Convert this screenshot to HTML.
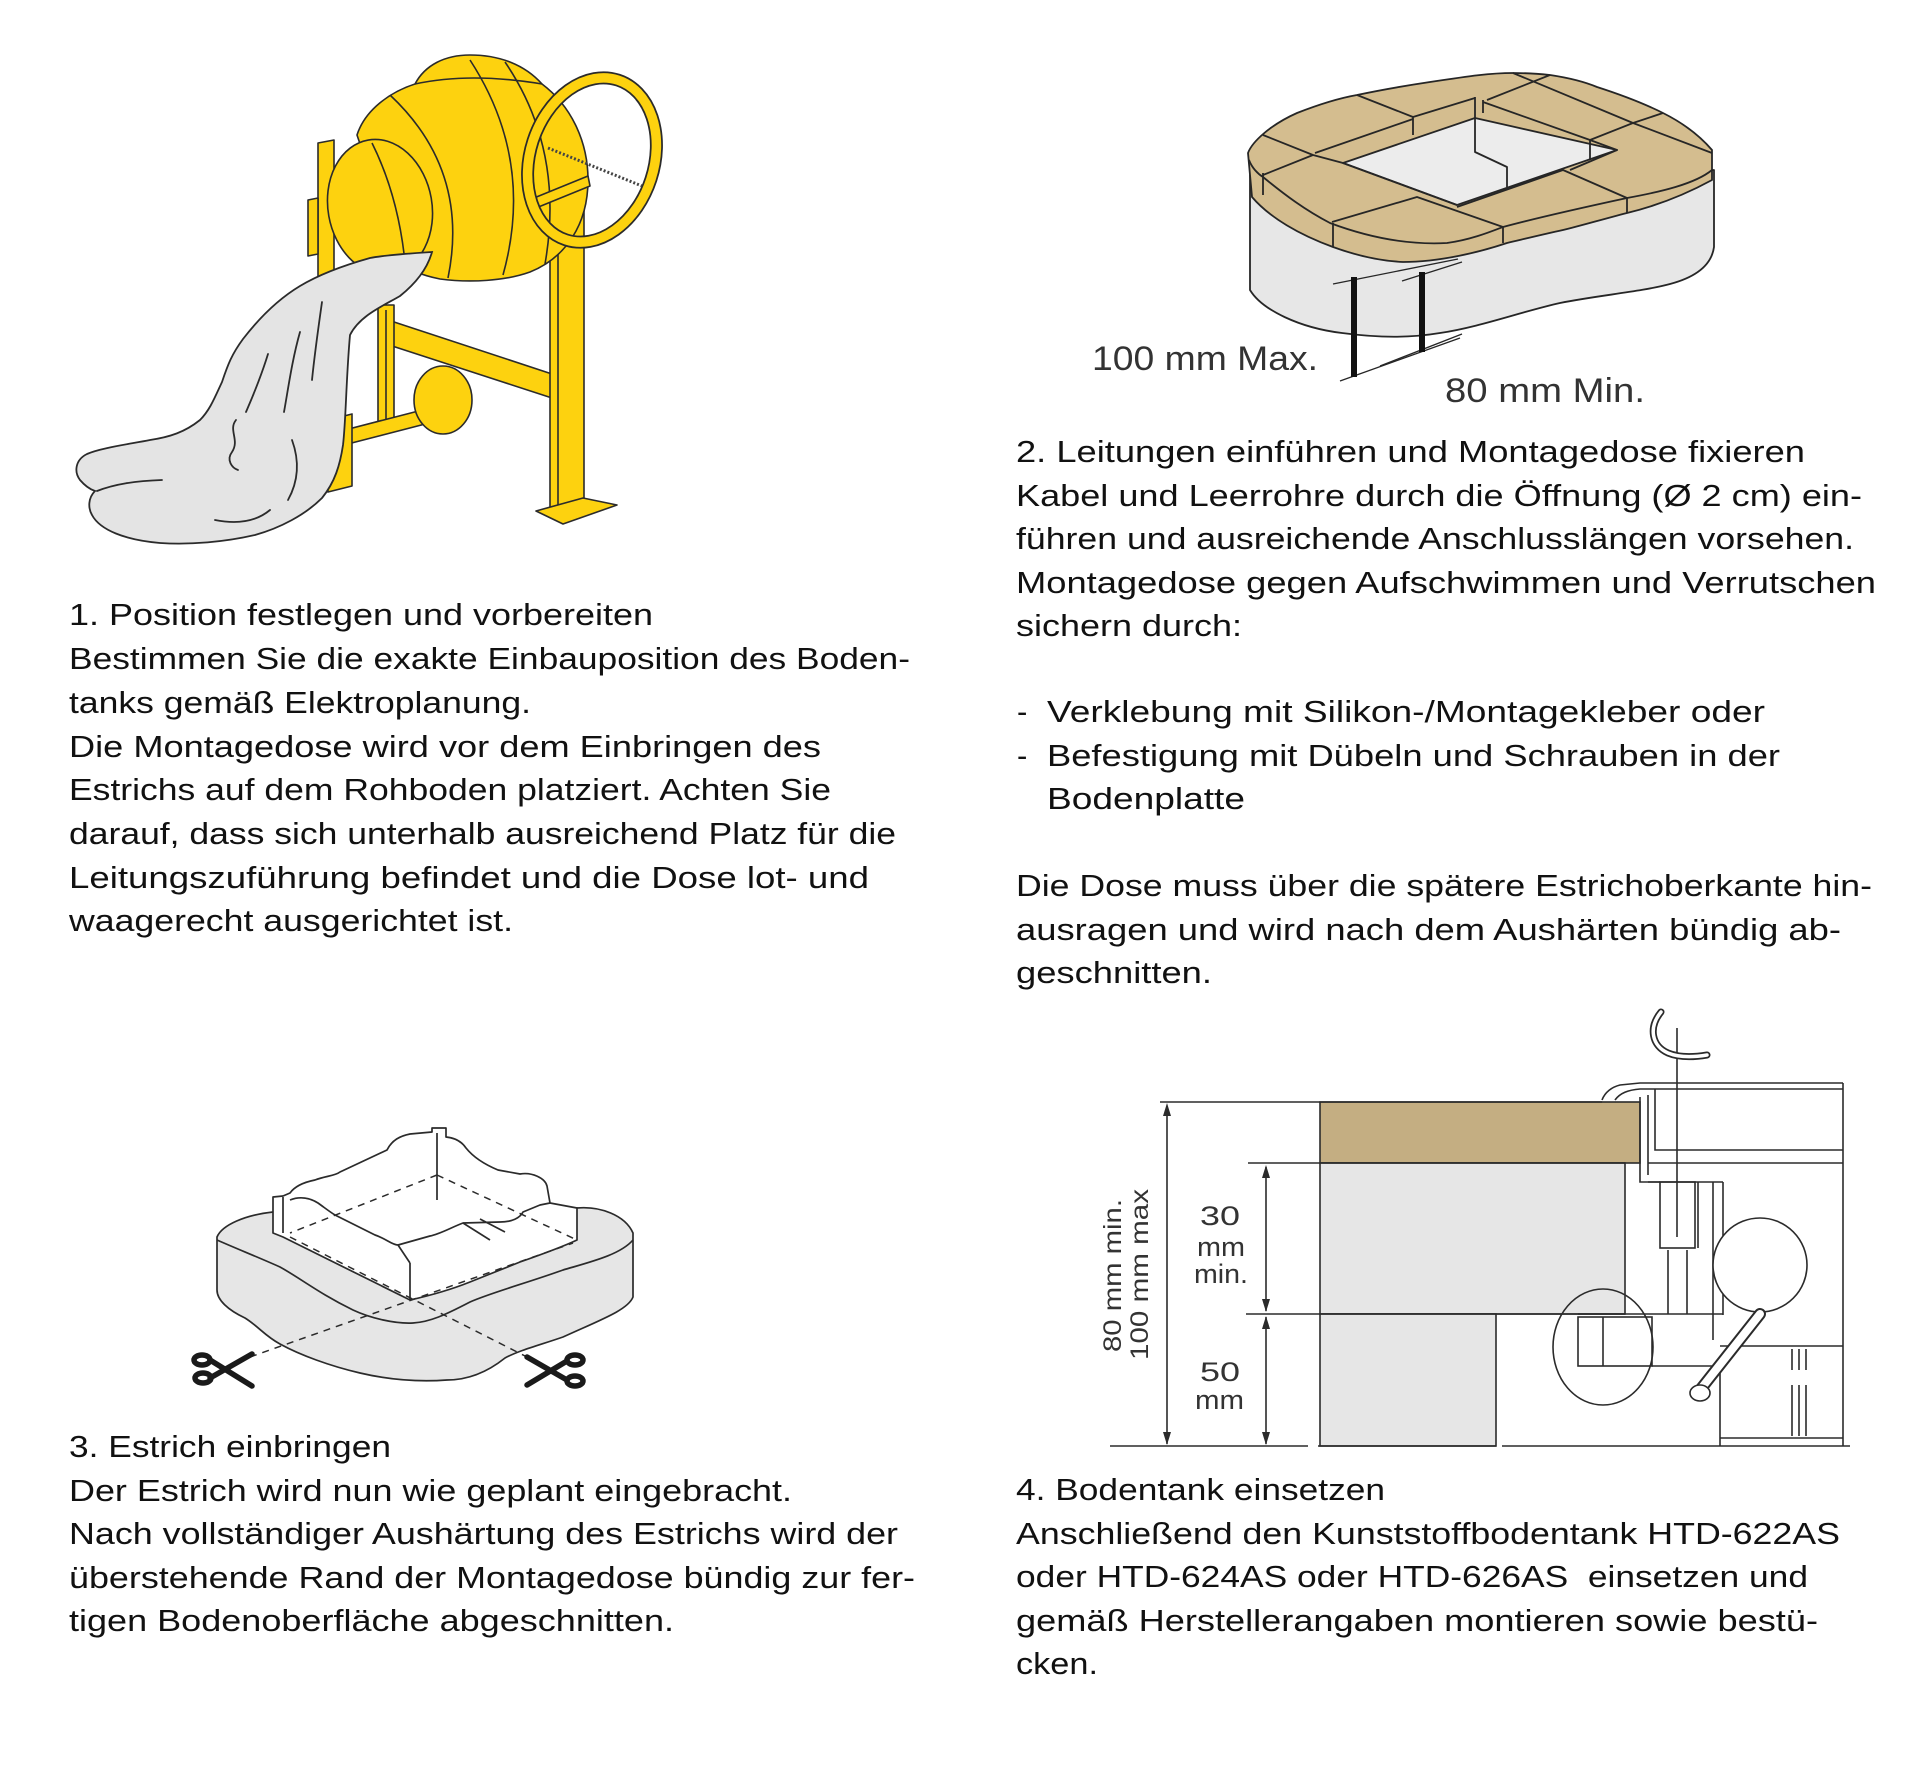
<!DOCTYPE html>
<html><head><meta charset="utf-8"><style>
html,body{margin:0;padding:0;background:#fff;}
svg{display:block;}
text{font-family:"Liberation Sans",sans-serif;}
</style></head><body>
<svg width="1920" height="1775" viewBox="0 0 1920 1775" xmlns="http://www.w3.org/2000/svg">
<rect width="1920" height="1775" fill="#fff"/>

<!-- ============ FIGURE 1: concrete mixer ============ -->
<g stroke="#2b2b2b" stroke-width="1.6" stroke-linejoin="round" fill="#fdd20f">
  <polygon points="318,143 334,140 334,410 318,412"/>
  <polygon points="308,200 318,198 318,254 308,256"/>
  <polygon points="388,320 552,374 552,398 386,344"/>
  <rect x="378" y="305" width="16" height="122"/>
  <line x1="386" y1="310" x2="386" y2="425" fill="none"/>
  <polygon points="337,432 430,408 433,422 340,446"/>
  <polygon points="328,420 352,414 352,486 328,492"/>
  <ellipse cx="443" cy="400" rx="29" ry="34"/>
  <polygon points="550,195 584,182 584,505 550,512"/>
  <line x1="558" y1="195" x2="558" y2="510" fill="none"/>
  <polygon points="536,511 583,498 617,505 563,524"/>
  <!-- drum -->
  <path d="M357,135 C365,110 390,92 415,84 C425,65 445,55 470,55 C500,55 525,65 542,84 C570,105 588,140 588,180 C588,225 565,258 530,272 C505,281 470,283 440,279 C420,275 405,268 400,262 Z"/>
  <path fill="none" d="M415,84 Q470,72 542,84"/>
  <path fill="none" d="M390,95 Q470,170 448,278"/>
  <path fill="none" d="M470,60 Q535,160 503,275"/>
  <path fill="none" d="M505,62 Q565,150 545,264"/>
  <ellipse cx="380" cy="207" rx="52" ry="68" transform="rotate(-10 380 207)"/>
  <path fill="none" d="M372,143 Q398,195 405,262"/>
  <polygon points="534,198 588,176 590,186 536,208"/>
  <!-- ring -->
  <ellipse cx="592" cy="160" rx="62" ry="84" transform="rotate(18 592 160)" fill="none" stroke="#2b2b2b" stroke-width="13"/>
  <ellipse cx="592" cy="160" rx="62" ry="84" transform="rotate(18 592 160)" fill="none" stroke="#fdd20f" stroke-width="9.5"/>
  <line x1="548" y1="148" x2="642" y2="186" stroke="#444" stroke-width="3" stroke-dasharray="2,2" fill="none"/>
</g>
<!-- cloth / screed -->
<g stroke="#2b2b2b" stroke-width="1.8" fill="#e4e4e4" stroke-linecap="round">
  <path d="M432,252 C400,254 380,256 370,258 C345,265 320,274 300,286 C280,298 260,317 243,339 C232,354 228,364 222,382 C215,397 210,410 200,420 C185,432 170,437 150,440 C130,444 100,448 87,454 C75,460 74,472 80,480 C86,487 92,490 95,491 C88,498 88,508 92,515 C100,530 125,540 160,543 C190,545 225,542 255,535 C280,528 305,515 322,498 C335,482 340,465 343,445 C346,420 346,380 350,335 C360,315 385,305 400,296 C415,284 427,270 432,252 Z"/>
  <g fill="none">
    <path d="M300,332 C292,360 288,390 284,412"/>
    <path d="M268,354 C260,380 252,398 246,412"/>
    <path d="M236,420 C228,430 240,440 232,452 C226,460 232,468 238,470"/>
    <path d="M97,491 C115,484 135,481 162,480"/>
    <path d="M292,440 C300,462 298,482 288,500"/>
    <path d="M215,520 C240,525 258,520 270,510"/>
    <path d="M322,302 C318,330 314,360 312,380"/>
  </g>
</g>

<!-- ============ FIGURE 2: mounting box ============ -->
<g stroke="#262626" stroke-width="1.8" stroke-linejoin="round">
  <path fill="#e7e7e7" d="M1250,175 L1250,290 C1262,310 1300,328 1342,333 C1380,338 1410,338 1440,333 C1480,327 1520,312 1560,303 C1600,295 1640,292 1670,284 C1700,276 1712,262 1714,247 L1714,170 Z"/>
  <path fill="#d4bd8f" d="M1248,153 C1252,142 1270,125 1297,113 C1320,104 1340,98 1357,95 C1390,88 1410,85 1430,82 C1470,76 1490,73 1513,73 C1530,73 1540,74 1550,75 C1570,78 1585,82 1597,87 C1625,96 1645,104 1663,113 C1685,124 1700,136 1712,150 L1712,180 C1690,192 1660,205 1627,213 C1600,220 1580,226 1563,230 C1540,235 1520,240 1507,243 C1480,252 1440,262 1403,262 C1380,261 1355,255 1333,247 C1300,235 1270,218 1252,197 Z"/>
  <path fill="none" d="M1249,160 C1252,168 1258,174 1263,177 C1285,195 1305,210 1330,223 C1370,238 1410,245 1447,243 C1470,240 1490,232 1503,227 C1540,217 1590,206 1627,198 C1660,192 1695,184 1712,170"/>
  <polygon fill="#ececec" points="1343,163 1475,118 1617,150 1457,205"/>
  <g fill="none">
    <path d="M1475,97 L1475,152 L1507,167 L1507,187"/>
    <path d="M1483,100 L1483,113 M1483,102 L1590,140 L1590,160 M1590,140 L1617,150 L1570,170"/>
    <path d="M1357,95 L1413,117 L1413,135 M1413,117 L1475,98"/>
    <path d="M1263,135 L1313,155 L1343,163 M1313,155 L1263,175 M1315,153 L1413,119"/>
    <path d="M1332,222 L1417,197 L1503,227 L1503,243"/>
    <path d="M1457,207 L1563,170 L1627,198 L1627,213"/>
    <path d="M1513,73 L1633,123 L1712,153 M1663,113 L1633,123 L1590,140 M1550,75 L1487,100"/>
    <path d="M1263,173 L1263,195 M1333,223 L1333,247"/>
    <path d="M1343,163 L1457,205"/>
  </g>
  <!-- dimension -->
  <g fill="none" stroke-width="1.3">
    <line x1="1333" y1="284" x2="1458" y2="259"/>
    <line x1="1402" y1="281" x2="1462" y2="262"/>
    <line x1="1340" y1="381" x2="1460" y2="338"/>
    <line x1="1380" y1="366" x2="1462" y2="334"/>
  </g>
</g>
<rect x="1351" y="277" width="6" height="100" fill="#111"/>
<rect x="1419" y="272" width="6" height="80" fill="#111"/>
<text x="1092" y="370" font-size="34" fill="#333" textLength="226" lengthAdjust="spacingAndGlyphs">100 mm Max.</text>
<text x="1445" y="402" font-size="34" fill="#333" textLength="200" lengthAdjust="spacingAndGlyphs">80 mm Min.</text>

<!-- ============ FIGURE 3: screed with box ============ -->
<g stroke="#2b2b2b" stroke-width="1.7" stroke-linejoin="round">
  <path fill="#e6e6e6" d="M217,1237 C222,1225 245,1215 273,1212 L577,1208 C600,1206 625,1215 633,1233 L633,1297 C628,1310 600,1320 563,1337 C540,1345 520,1350 505,1358 C490,1370 470,1380 447,1380 C420,1382 390,1380 360,1373 C330,1366 300,1355 280,1344 C265,1336 258,1326 245,1318 C228,1310 217,1300 217,1290 Z"/>
  <path fill="none" d="M217,1240 C235,1248 260,1258 280,1267 C300,1278 320,1294 353,1310 C370,1318 395,1324 413,1323 C430,1322 445,1315 470,1302 C490,1293 530,1282 563,1270 C590,1262 620,1255 633,1240"/>
  <path fill="#ffffff" d="M273,1197 L283,1196 L290,1193 C295,1186 305,1182 315,1180 C325,1176 335,1176 340,1172 L387,1150 C392,1140 400,1136 410,1134 L432,1132 L432,1128 L446,1128 L446,1137 C456,1138 462,1142 466,1148 C474,1158 486,1165 498,1170 L520,1174 C532,1172 545,1178 547,1186 L550,1203 L577,1208 L577,1240 C560,1248 540,1255 520,1262 L470,1282 C450,1290 428,1296 410,1300 L283,1237 L273,1233 Z"/>
  <path fill="none" d="M283,1197 L283,1233 M437,1133 L437,1200 M410,1263 L410,1300"/>
  <path fill="none" d="M290,1200 C300,1196 310,1198 318,1203 C325,1208 330,1212 335,1215 L375,1235 C385,1238 392,1245 398,1245 L410,1263"/>
  <path fill="none" d="M398,1245 L430,1236 C440,1234 450,1228 463,1223 L500,1222 C512,1222 520,1218 523,1212 L540,1205 L550,1203"/>
  <path fill="none" d="M463,1223 L490,1240 M480,1219 L505,1232"/>
  <g fill="none" stroke-dasharray="7,6" stroke-width="1.5">
    <line x1="437" y1="1175" x2="290" y2="1233"/>
    <line x1="437" y1="1175" x2="577" y2="1240"/>
    <line x1="290" y1="1237" x2="527" y2="1357"/>
    <line x1="250" y1="1357" x2="573" y2="1243"/>
  </g>
</g>
<!-- scissors -->
<g stroke="#1a1a1a" stroke-width="5.5" fill="none" stroke-linecap="round">
  <line x1="210" y1="1360" x2="252" y2="1386"/>
  <line x1="210" y1="1378" x2="252" y2="1354"/>
  <ellipse cx="202" cy="1360" rx="8" ry="5"/>
  <ellipse cx="203" cy="1378" rx="8" ry="5"/>
  <line x1="567" y1="1361" x2="527" y2="1385"/>
  <line x1="567" y1="1380" x2="527" y2="1357"/>
  <ellipse cx="575" cy="1360" rx="8" ry="5"/>
  <ellipse cx="575" cy="1381" rx="8" ry="5"/>
</g>

<!-- ============ FIGURE 4: section ============ -->
<g stroke="#2b2b2b" stroke-width="1.6" fill="none">
  <rect x="1320" y="1102" width="320" height="61" fill="#c4ae82"/>
  <rect x="1320" y="1163" width="305" height="151" fill="#e6e6e6"/>
  <rect x="1320" y="1314" width="176" height="132" fill="#e6e6e6"/>
  <line x1="1160" y1="1102" x2="1602" y2="1102"/>
  <line x1="1248" y1="1163" x2="1625" y2="1163"/>
  <line x1="1246" y1="1314" x2="1625" y2="1314"/>
  <line x1="1110" y1="1446" x2="1308" y2="1446"/>
  <line x1="1318" y1="1446" x2="1496" y2="1446"/>
  <line x1="1502" y1="1446" x2="1850" y2="1446"/>
  <line x1="1167" y1="1106" x2="1167" y2="1444"/>
  <line x1="1266" y1="1167" x2="1266" y2="1311"/>
  <line x1="1266" y1="1317" x2="1266" y2="1444"/>
  <!-- tank profile -->
  <path d="M1602,1100 C1605,1092 1612,1087 1620,1085 L1640,1083 L1843,1083"/>
  <path d="M1615,1100 C1620,1093 1628,1090 1640,1089 L1843,1089"/>
  <line x1="1843" y1="1083" x2="1843" y2="1446"/>
  <path d="M1640,1097 L1640,1182 L1660,1182"/>
  <path d="M1648,1095 L1648,1175"/>
  <path d="M1655,1089 L1655,1150 L1843,1150"/>
  <line x1="1648" y1="1163" x2="1843" y2="1163"/>
  <line x1="1648" y1="1182" x2="1723" y2="1182"/>
  <rect x="1660" y="1182" width="35" height="66"/>
  <line x1="1698" y1="1182" x2="1698" y2="1248"/>
  <line x1="1677" y1="1028" x2="1677" y2="1237"/>
  <line x1="1713" y1="1182" x2="1713" y2="1340"/>
  <line x1="1723" y1="1182" x2="1723" y2="1315"/>
  <line x1="1668" y1="1250" x2="1668" y2="1314"/>
  <line x1="1687" y1="1250" x2="1687" y2="1314"/>
  <line x1="1578" y1="1314" x2="1723" y2="1314"/>
  <rect x="1578" y="1317" width="74" height="49"/>
  <line x1="1603" y1="1317" x2="1603" y2="1366"/>
  <line x1="1652" y1="1366" x2="1712" y2="1366"/>
  <ellipse cx="1603" cy="1347" rx="50" ry="58"/>
  <circle cx="1760" cy="1265" r="47" fill="#fff"/>
  <line x1="1720" y1="1346" x2="1843" y2="1346"/>
  <line x1="1720" y1="1356" x2="1720" y2="1446"/>
  <line x1="1720" y1="1438" x2="1843" y2="1438"/>
  <path d="M1792,1349 L1792,1370 M1799,1349 L1799,1370 M1806,1349 L1806,1370 M1792,1385 L1792,1436 M1799,1385 L1799,1436 M1806,1385 L1806,1436"/>
  <!-- handle -->
  <line x1="1760" y1="1314" x2="1700" y2="1390" stroke="#2b2b2b" stroke-width="12" stroke-linecap="round"/>
  <line x1="1760" y1="1314" x2="1700" y2="1390" stroke="#fff" stroke-width="8" stroke-linecap="round"/>
  <ellipse cx="1700" cy="1393" rx="10" ry="8" fill="#fff"/>
  <!-- hook arrow -->
  <path d="M1661,1012 C1648,1028 1652,1046 1668,1053 C1680,1058 1695,1057 1707,1055" stroke="#2b2b2b" stroke-width="7" stroke-linecap="round"/>
  <path d="M1661,1012 C1648,1028 1652,1046 1668,1053 C1680,1058 1695,1057 1707,1055" stroke="#fff" stroke-width="3.5" stroke-linecap="round"/>
</g>
<g fill="#2b2b2b">
  <polygon points="1167,1103 1163,1116 1171,1116"/>
  <polygon points="1167,1445 1163,1432 1171,1432"/>
  <polygon points="1266,1165 1262,1178 1270,1178"/>
  <polygon points="1266,1312 1262,1299 1270,1299"/>
  <polygon points="1266,1316 1262,1329 1270,1329"/>
  <polygon points="1266,1445 1262,1432 1270,1432"/>
</g>
<g fill="#333" font-size="27">
  <text x="1200" y="1225" textLength="40" lengthAdjust="spacingAndGlyphs">30</text>
  <text x="1197" y="1256" textLength="48" lengthAdjust="spacingAndGlyphs">mm</text>
  <text x="1194" y="1283" textLength="54" lengthAdjust="spacingAndGlyphs">min.</text>
  <text x="1200" y="1381" textLength="40" lengthAdjust="spacingAndGlyphs">50</text>
  <text x="1195" y="1409" textLength="49" lengthAdjust="spacingAndGlyphs">mm</text>
  <text transform="translate(1121,1352) rotate(-90)" font-size="25" textLength="153" lengthAdjust="spacingAndGlyphs">80 mm min.</text>
  <text transform="translate(1148,1360) rotate(-90)" font-size="25" textLength="171" lengthAdjust="spacingAndGlyphs">100 mm max</text>
</g>

<!-- ============ TEXT ============ -->
<g fill="#111" font-size="31">
  <!-- Section 1 -->
  <text x="69" y="625" textLength="584" lengthAdjust="spacingAndGlyphs">1. Position festlegen und vorbereiten</text>
  <text x="69" y="669" textLength="841" lengthAdjust="spacingAndGlyphs">Bestimmen Sie die exakte Einbauposition des Boden-</text>
  <text x="69" y="713" textLength="462" lengthAdjust="spacingAndGlyphs">tanks gemäß Elektroplanung.</text>
  <text x="69" y="757" textLength="752" lengthAdjust="spacingAndGlyphs">Die Montagedose wird vor dem Einbringen des</text>
  <text x="69" y="800" textLength="762" lengthAdjust="spacingAndGlyphs">Estrichs auf dem Rohboden platziert. Achten Sie</text>
  <text x="69" y="844" textLength="827" lengthAdjust="spacingAndGlyphs">darauf, dass sich unterhalb ausreichend Platz für die</text>
  <text x="69" y="888" textLength="800" lengthAdjust="spacingAndGlyphs">Leitungszuführung befindet und die Dose lot- und</text>
  <text x="69" y="931" textLength="444" lengthAdjust="spacingAndGlyphs">waagerecht ausgerichtet ist.</text>

  <!-- Section 2 -->
  <text x="1016" y="462" textLength="789" lengthAdjust="spacingAndGlyphs">2. Leitungen einführen und Montagedose fixieren</text>
  <text x="1016" y="506" textLength="846" lengthAdjust="spacingAndGlyphs">Kabel und Leerrohre durch die Öffnung (Ø 2 cm) ein-</text>
  <text x="1016" y="549" textLength="838" lengthAdjust="spacingAndGlyphs">führen und ausreichende Anschlusslängen vorsehen.</text>
  <text x="1016" y="593" textLength="860" lengthAdjust="spacingAndGlyphs">Montagedose gegen Aufschwimmen und Verrutschen</text>
  <text x="1016" y="636" textLength="226" lengthAdjust="spacingAndGlyphs">sichern durch:</text>
  <text x="1017" y="722">-</text>
  <text x="1047" y="722" textLength="718" lengthAdjust="spacingAndGlyphs">Verklebung mit Silikon-/Montagekleber oder</text>
  <text x="1017" y="766">-</text>
  <text x="1047" y="766" textLength="733" lengthAdjust="spacingAndGlyphs">Befestigung mit Dübeln und Schrauben in der</text>
  <text x="1047" y="809" textLength="198" lengthAdjust="spacingAndGlyphs">Bodenplatte</text>
  <text x="1016" y="896" textLength="856" lengthAdjust="spacingAndGlyphs">Die Dose muss über die spätere Estrichoberkante hin-</text>
  <text x="1016" y="940" textLength="825" lengthAdjust="spacingAndGlyphs">ausragen und wird nach dem Aushärten bündig ab-</text>
  <text x="1016" y="983" textLength="196" lengthAdjust="spacingAndGlyphs">geschnitten.</text>

  <!-- Section 3 -->
  <text x="69" y="1457" textLength="322" lengthAdjust="spacingAndGlyphs">3. Estrich einbringen</text>
  <text x="69" y="1501" textLength="723" lengthAdjust="spacingAndGlyphs">Der Estrich wird nun wie geplant eingebracht.</text>
  <text x="69" y="1544" textLength="829" lengthAdjust="spacingAndGlyphs">Nach vollständiger Aushärtung des Estrichs wird der</text>
  <text x="69" y="1588" textLength="846" lengthAdjust="spacingAndGlyphs">überstehende Rand der Montagedose bündig zur fer-</text>
  <text x="69" y="1631" textLength="605" lengthAdjust="spacingAndGlyphs">tigen Bodenoberfläche abgeschnitten.</text>

  <!-- Section 4 -->
  <text x="1016" y="1500" textLength="369" lengthAdjust="spacingAndGlyphs">4. Bodentank einsetzen</text>
  <text x="1016" y="1544" textLength="824" lengthAdjust="spacingAndGlyphs">Anschließend den Kunststoffbodentank HTD-622AS</text>
  <text x="1016" y="1587" textLength="792" lengthAdjust="spacingAndGlyphs">oder HTD-624AS oder HTD-626AS&#160; einsetzen und</text>
  <text x="1016" y="1631" textLength="802" lengthAdjust="spacingAndGlyphs">gemäß Herstellerangaben montieren sowie bestü-</text>
  <text x="1016" y="1674" textLength="82" lengthAdjust="spacingAndGlyphs">cken.</text>
</g>
</svg>
</body></html>
